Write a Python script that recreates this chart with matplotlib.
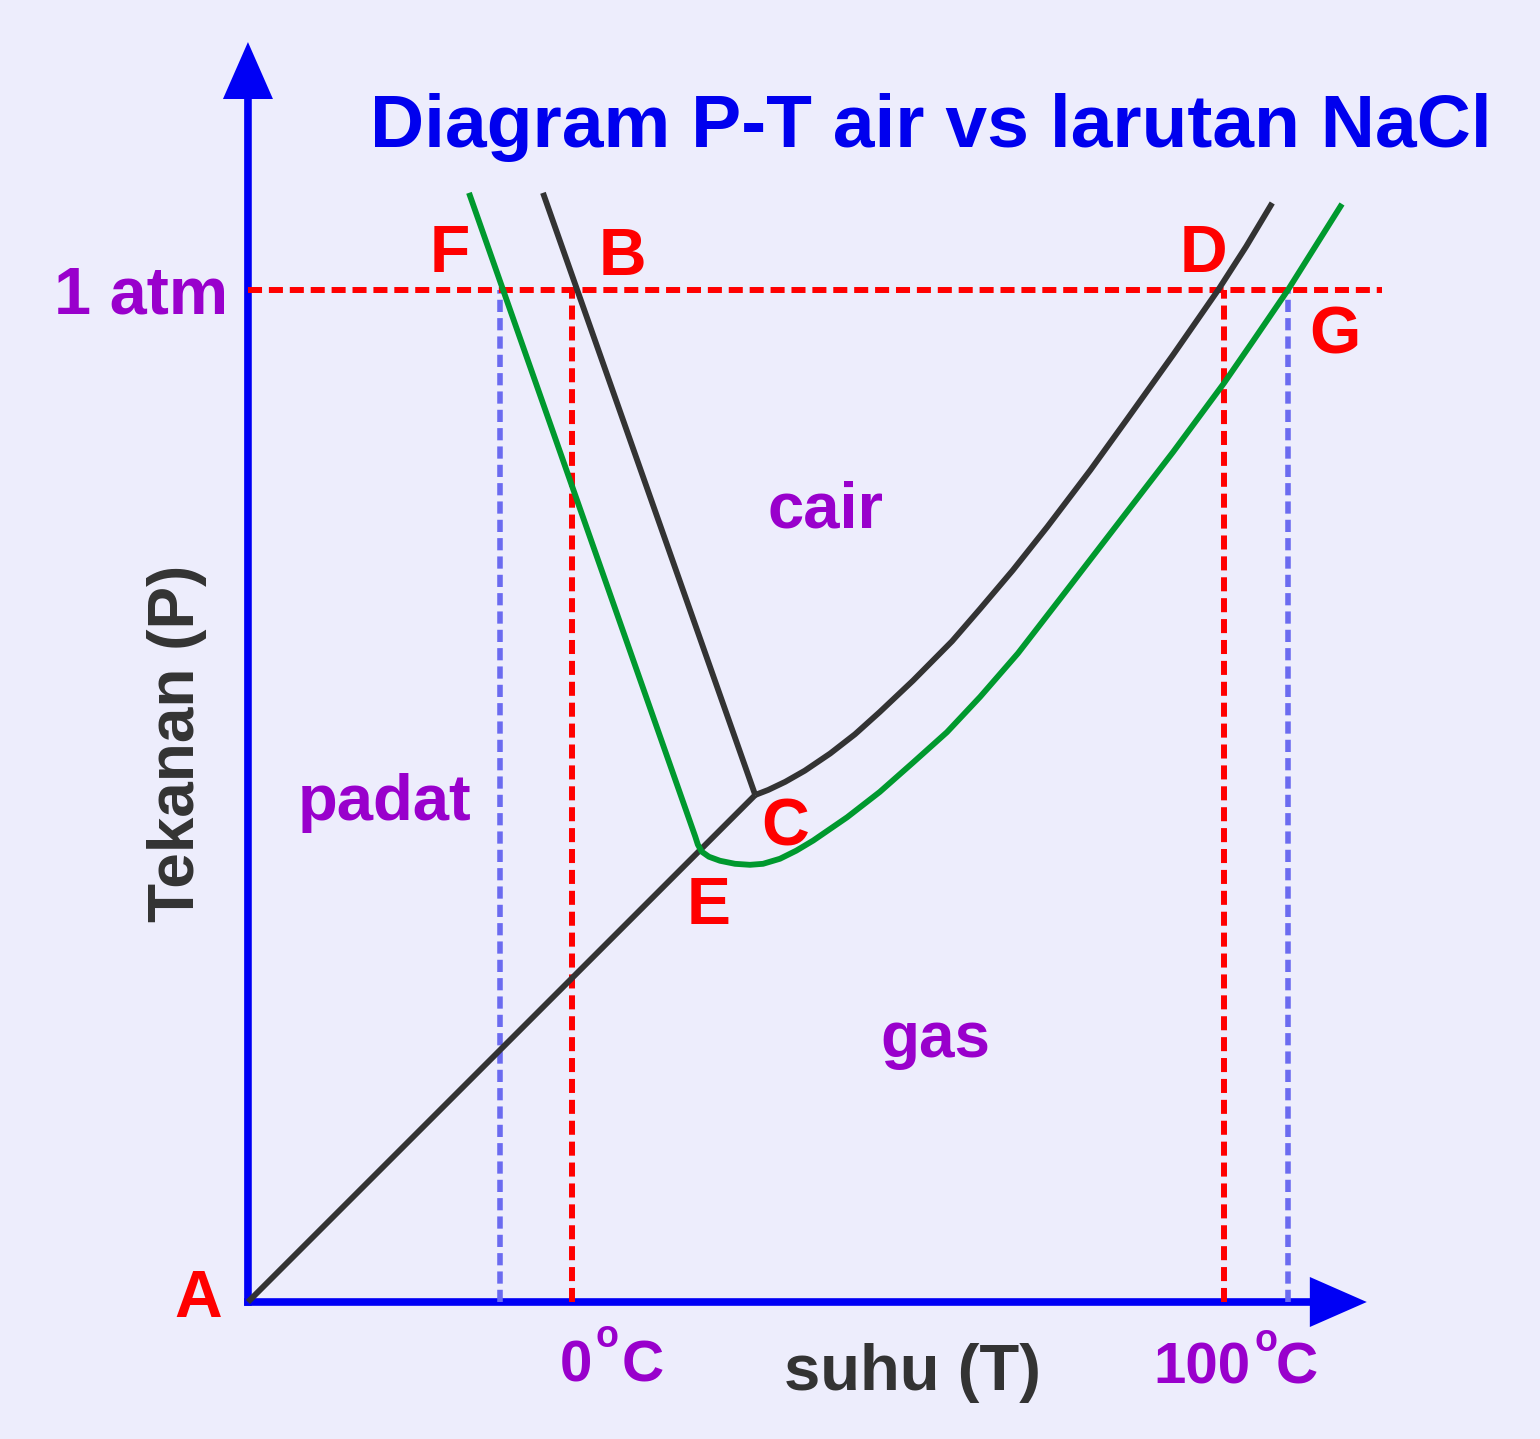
import matplotlib.pyplot as plt
from matplotlib.patches import FancyArrowPatch, ArrowStyle

# picture layout: pixel <-> (T in degC, P in atm)
W, H = 1540, 1439
X0_PX, PX_PER_DEG = 572, 6.52
Y0_PX, PX_PER_ATM = 1302, 1012

# pure water (black): sublimation A-C, melting C-B, boiling C-D
sub_T = [-49.7, 28.1]
sub_P = [0.0, 0.501]
melt_T = [28.1, -4.45]
melt_P = [0.501, 1.096]
boil_T = [28.1, 30.1, 32.7, 35.7, 39.6, 43.4, 47.2, 52.3, 58.3, 62.6, 67.6, 72.9,
          79.5, 85.1, 92.2, 99.1, 103.4, 107.4]
boil_P = [0.501, 0.506, 0.514, 0.525, 0.542, 0.561, 0.583, 0.614, 0.653, 0.685, 0.723, 0.766,
          0.822, 0.872, 0.936, 1.0, 1.043, 1.086]

# NaCl solution (green): freezing F-E, boiling E-G
nacl_T = [-15.8, 18.9, 19.3, 19.9, 21.0, 22.7, 25.0, 27.3, 29.3, 31.9, 34.4, 37.0,
          42.2, 47.2, 52.3, 57.5, 62.6, 68.4, 75.6, 83.0, 92.2, 100.0, 104.5, 109.8, 118.1]
nacl_P = [1.096, 0.460, 0.452, 0.445, 0.440, 0.436, 0.433, 0.432, 0.433, 0.438, 0.446, 0.456,
          0.479, 0.504, 0.533, 0.563, 0.598, 0.641, 0.701, 0.763, 0.840, 0.908, 0.950, 1.0, 1.085]

P_ref = 1.0                  # 1 atm
T_water = [0, 100]           # freezing / boiling point of water
T_nacl = [-11.0, 109.8]      # freezing / boiling point of NaCl solution

BG = '#EDEDFC'
BLUE = '#0000F5'
RED = '#FF0000'
PURPLE = '#9900CC'
DARK = '#333333'
GREEN = '#00992E'
LIGHTBLUE = '#6B6BF0'
FONT = 'Liberation Sans'

fig = plt.figure(figsize=(W / 100, H / 100), dpi=100, facecolor=BG)
ax = fig.add_axes([0, 0, 1, 1])
ax.set_facecolor(BG)
ax.set_xlim(-X0_PX / PX_PER_DEG, (W - X0_PX) / PX_PER_DEG)
ax.set_ylim((Y0_PX - H) / PX_PER_ATM, Y0_PX / PX_PER_ATM)
ax.axis('off')

T_axis = sub_T[0]

# axes with arrow heads
half = 3.8 / PX_PER_ATM
arrow = ArrowStyle.Simple(head_length=41, head_width=36, tail_width=5.5)
ax.add_patch(FancyArrowPatch((T_axis, -half), (T_axis, 1.245), arrowstyle=arrow,
                             mutation_scale=1, color=BLUE, lw=0, shrinkA=0, shrinkB=0, zorder=1))
ax.add_patch(FancyArrowPatch((T_axis - 3.8 / PX_PER_DEG, 0), (121.9, 0), arrowstyle=arrow,
                             mutation_scale=1, color=BLUE, lw=0, shrinkA=0, shrinkB=0, zorder=1))

# reference dashed lines
ax.vlines(T_nacl, 0, P_ref, colors=LIGHTBLUE, lw=4, linestyles=(0, (2.2, 1.1)), zorder=1.5)
ax.vlines(T_water, 0, P_ref, colors=RED, lw=4.3, linestyles=(0, (2.35, 1.15)), zorder=2)
ax.hlines(P_ref, T_axis, 124.2, colors=RED, lw=4.3, linestyles=(0, (2.35, 1.15)), zorder=2)

# phase boundaries
kw = dict(lw=4.2, solid_capstyle='butt', solid_joinstyle='round', zorder=3)
ax.plot(sub_T, sub_P, color=DARK, **kw)
ax.plot(melt_T, melt_P, color=DARK, **kw)
ax.plot(boil_T, boil_P, color=DARK, **kw)
ax.plot(nacl_T, nacl_P, color=GREEN, **kw)


def put(x, y, s, size, color, **kw):
    fig.text(x / W, 1 - y / H, s, fontsize=size, color=color, family=FONT,
             fontweight='bold', ha='center', va='baseline', **kw)


put(931, 147, 'Diagram P-T air vs larutan NaCl', 54, '#0000EE')
put(141, 313, '1 atm', 48, PURPLE)

for name, x, y in [('F', 450, 272), ('B', 622, 275), ('D', 1203, 272), ('G', 1335, 353),
                   ('C', 785, 846), ('E', 709, 924), ('A', 198, 1317)]:
    put(x, y, name, 47.5, RED)

put(825, 527, 'cair', 47, PURPLE)
put(385, 820, 'padat', 47, PURPLE)
put(935, 1057, 'gas', 46, PURPLE)

put(576, 1381, '0', 42, PURPLE)
put(607, 1347, 'o', 27, PURPLE)
put(643, 1381, 'C', 42, PURPLE)
put(1202, 1383, '100', 42, PURPLE)
put(1266, 1351, 'o', 27, PURPLE)
put(1297, 1383, 'C', 42, PURPLE)

put(913, 1390, 'suhu (T)', 47, DARK)
put(194, 743, 'Tekanan (P)', 46, DARK, rotation=90, rotation_mode='anchor')

fig.savefig('out.png', dpi=100, facecolor=BG)
